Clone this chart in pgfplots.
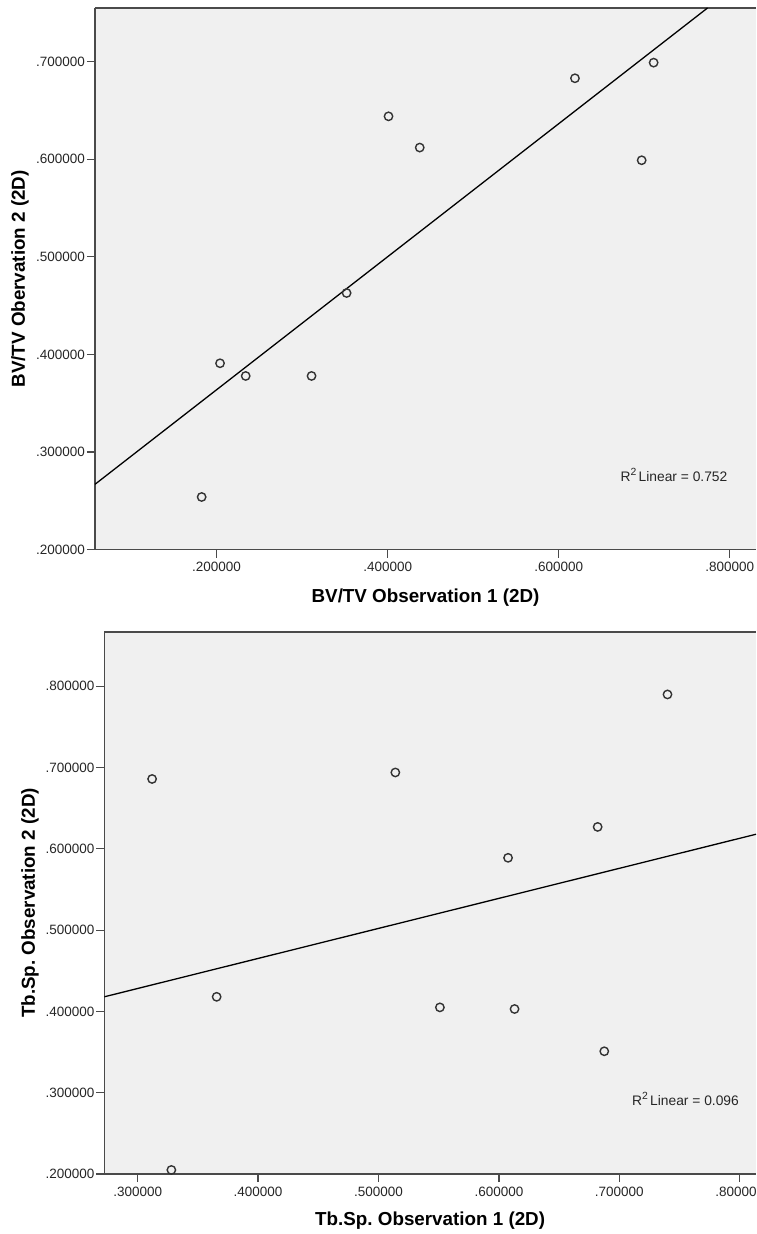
\documentclass[border=0pt]{standalone}
\usepackage{fontspec}
\setmainfont{Liberation Sans}
\usepackage{pgfplots}
\pgfplotsset{compat=1.18}
\definecolor{bg}{HTML}{F0F0F0}
\definecolor{frame}{HTML}{4A4A4A}
\definecolor{mk}{HTML}{333333}
\newcommand{\rsq}{R\raisebox{0.45em}{\fontsize{5.2}{6}\selectfont 2}\,Linear}
\pgfplotsset{spss/.style={
  scale only axis,
  axis x line*=box, axis y line*=left,
  xtick pos=bottom,
  axis line style={frame, line width=0.65pt},
  axis background/.style={fill=bg},
  tick align=outside, major tick length=4pt,
  tick style={frame, line width=0.6pt},
  scaled ticks=false,
  /pgf/number format/fixed,
  /pgf/number format/fixed zerofill,
  /pgf/number format/precision=6,
  /pgf/number format/skip 0.,
  /pgf/number format/assume math mode=true,
  ticklabel style={font=\fontsize{6.75}{8}\selectfont, text=black!85},
  yticklabel style={inner sep=0.8pt},
  xticklabel style={inner sep=2.2pt},
  label style={font=\bfseries\fontsize{9.4}{11}\selectfont},
  clip mode=individual,
}}
\begin{document}
\frenchspacing
\begin{tikzpicture}
\useasboundingbox (0,0) rectangle (378pt,-617pt);
% ---------- Panel 1 ----------
\begin{axis}[spss,
  at={(47.5pt,-274.85pt)}, anchor=south west,
  width=330.5pt, height=270.85pt,
  xmin=0.0578, xmax=0.8307, ymin=0.2, ymax=0.755,
  xtick={0.2,0.4,0.6,0.8},
  ytick={0.2,0.3,0.4,0.5,0.6,0.7},
  xlabel={BV/TV Observation 1 (2D)},
  ylabel={BV/TV Obervation 2 (2D)},
  xlabel style={at={(axis description cs:0.5,-0.0886)}, anchor=center},
  ylabel style={at={(axis description cs:-0.1135,0.5)}, anchor=center},
]
\addplot[black, line width=0.65pt] coordinates {(0.0578,0.267) (0.774,0.755)};
\addplot[only marks, mark=o, mark size=2.1pt, mark options={mk, line width=0.7pt}] coordinates {
 (0.401,0.644) (0.352,0.463) (0.4375,0.612) (0.619,0.683) (0.711,0.699)
 (0.697,0.599) (0.204,0.391) (0.234,0.378) (0.311,0.378) (0.1825,0.254)
};
\node[anchor=base west, inner sep=0pt, font=\fontsize{6.9}{8}\selectfont, text=black!85] at (axis cs:0.672,0.2697) {\rsq{} = 0.752};
\end{axis}
% ---------- Panel 2 ----------
\begin{axis}[spss,
  at={(52.15pt,-587pt)}, anchor=south west,
  width=325.85pt, height=271pt,
  xmin=0.2723, xmax=0.8135, ymin=0.2, ymax=0.8668,
  xtick={0.3,0.4,0.5,0.6,0.7,0.8},
  ytick={0.2,0.3,0.4,0.5,0.6,0.7,0.8},
  xlabel={Tb.Sp. Observation 1 (2D)},
  ylabel={Tb.Sp. Observation 2 (2D)},
  xlabel style={at={(axis description cs:0.5,-0.0867)}, anchor=center},
  ylabel style={at={(axis description cs:-0.114,0.5)}, anchor=center},
]
\addplot[black, line width=0.65pt] coordinates {(0.2723,0.418) (0.8135,0.618)};
\addplot[only marks, mark=o, mark size=2.1pt, mark options={mk, line width=0.7pt}] coordinates {
 (0.312,0.686) (0.514,0.694) (0.740,0.790) (0.682,0.627) (0.6076,0.589)
 (0.3656,0.418) (0.328,0.205) (0.551,0.405) (0.613,0.403) (0.6875,0.351)
};
\node[anchor=base west, inner sep=0pt, font=\fontsize{6.9}{8}\selectfont, text=black!85] at (axis cs:0.7103,0.2845) {\rsq{} = 0.096};
\end{axis}
\end{tikzpicture}
\end{document}
